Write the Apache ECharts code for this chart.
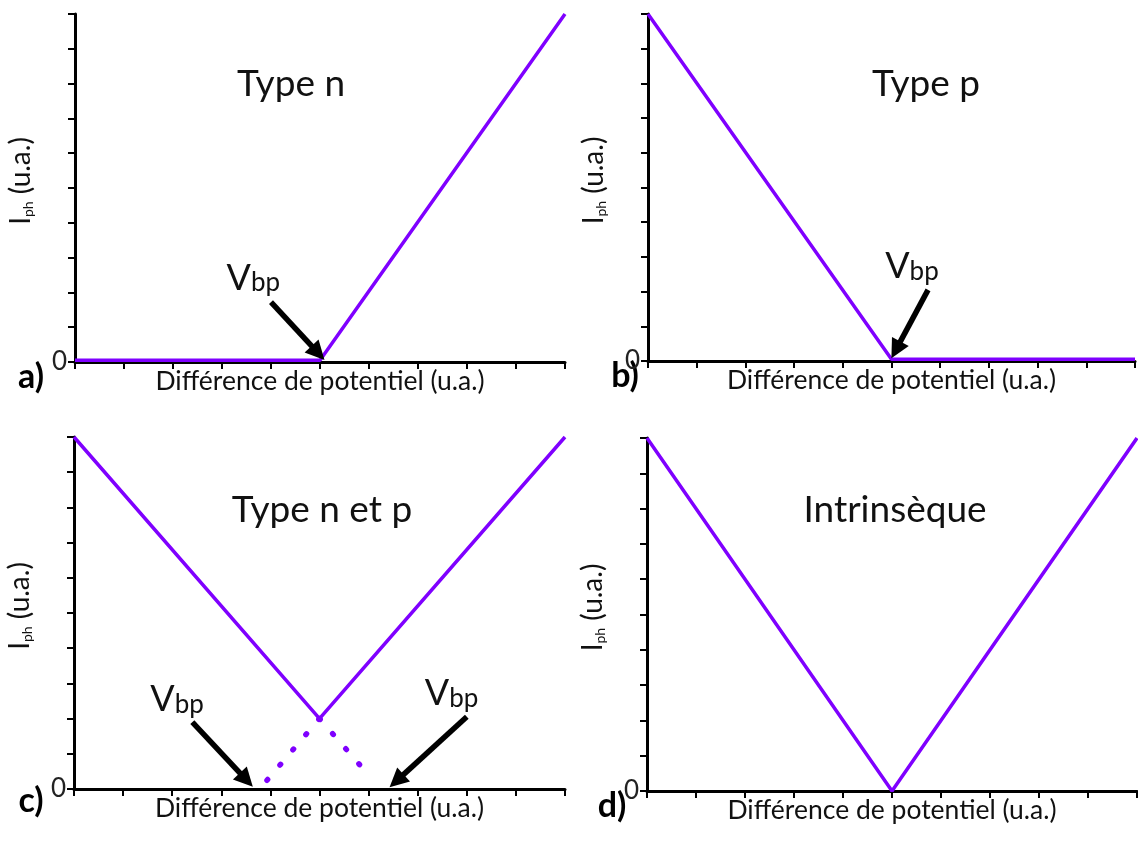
<!DOCTYPE html>
<html>
<head>
<meta charset="utf-8">
<script src="https://cdn.jsdelivr.net/npm/echarts@6/dist/echarts.min.js"></script>
<style>
html,body{margin:0;padding:0;background:#fff;}
#c{width:1138px;height:849px;}
</style>
</head>
<body>
<div id="c"></div>
<script>
// ---- data ----
const panelTitles = ['Type n', 'Type p', 'Type n et p', 'Intrinsèque'];
const panelLetters = ['a)', 'b)', 'c)', 'd)'];
const xLabel = 'Différence de potentiel (u.a.)';
const yTickLabels = ['0'];
const seriesA = [[0, 0.05], [5, 0.05], [10, 10]];
const seriesB = [[0, 10], [5, 0.05], [10, 0.05]];
const seriesC = [[0, 10], [5, 2], [10, 10]];
const seriesCDotLeft = [[5, 2], [3.78, 0]];
const seriesCDotRight = [[5, 2], [6.06, 0.3]];
const seriesD = [[0, 10], [5, 0], [10, 10]];
const arrowsA = [[[4.0, 1.72], [4.96, 0.26]]];
const labelsA = [[3.64, 2.47]];
const arrowsB = [[[5.75, 2.05], [5.09, 0.32]]];
const labelsB = [[5.42, 2.77]];
const arrowsC = [[[2.41, 1.9], [3.51, 0.26]], [[8.0, 2.05], [6.57, 0.23]]];
const labelsC = [[2.1, 2.6], [7.69, 2.76]];

// ---- layout ----
const FONT = 'Lato';
const PURPLE = '#7F00FF';
const grids = [
  {left: 75, top: 14, width: 490, height: 348},
  {left: 648, top: 14, width: 487, height: 347},
  {left: 74, top: 437, width: 491, height: 352},
  {left: 647, top: 438, width: 490, height: 353}
];

function xAxis(i) {
  return {
    type: 'value', gridIndex: i, min: 0, max: 10, interval: 1,
    axisLine: {show: true, lineStyle: {color: '#000', width: 3}},
    axisTick: {show: true, length: 7, lineStyle: {color: '#000', width: 2}},
    axisLabel: {show: false},
    splitLine: {show: false},
    name: xLabel, nameLocation: 'middle', nameGap: 6,
    nameTextStyle: {fontFamily: FONT, fontSize: 26.5, color: '#111', verticalAlign: 'top'}
  };
}
function yAxis(i) {
  return {
    type: 'value', gridIndex: i, min: 0, max: 10, interval: 1,
    axisLine: {show: true, lineStyle: {color: '#000', width: 3}},
    axisTick: {show: true, length: 7, lineStyle: {color: '#000', width: 2}},
    axisLabel: {show: true, margin: 8, fontFamily: FONT, fontSize: 26, color: '#222',
      formatter: v => (v === 0 ? yTickLabels[0] : '')},
    splitLine: {show: false},
    name: '{i|I}{s|ph}{n| (u.a.)}', nameLocation: 'middle', nameRotate: 90, nameGap: 40,
    nameTextStyle: {
      fontFamily: FONT, fontSize: 28, color: '#111', padding: [0, 0, 0, 14],
      rich: {
        i: {fontFamily: FONT, fontSize: 28, color: '#111', verticalAlign: 'bottom', lineHeight: 30},
        s: {fontFamily: FONT, fontSize: 14, color: '#111', verticalAlign: 'bottom', lineHeight: 8},
        n: {fontFamily: FONT, fontSize: 28, color: '#111', verticalAlign: 'bottom', lineHeight: 30}
      }
    }
  };
}

function mainLine(i, data) {
  return {type: 'line', xAxisIndex: i, yAxisIndex: i, data: data, symbol: 'none',
    lineStyle: {color: PURPLE, width: 3.5}, z: 3, silent: true, animation: false};
}
function dotLine(i, data) {
  return {type: 'line', xAxisIndex: i, yAxisIndex: i, data: data, symbol: 'none',
    lineStyle: {color: PURPLE, width: 5.5, type: [1, 19], cap: 'round'}, z: 3, silent: true, animation: false};
}
function annot(i, arrows, labels) {
  return {type: 'line', xAxisIndex: i, yAxisIndex: i, data: [], symbol: 'none', silent: true, animation: false, z: 4,
    markLine: {
      silent: true, animation: false,
      symbol: ['none', 'triangle'], symbolSize: 19,
      lineStyle: {color: '#000', width: 5.5, type: 'solid'},
      itemStyle: {color: '#000'},
      label: {show: false},
      emphasis: {disabled: true},
      data: arrows.map(a => [{coord: a[0]}, {coord: a[1]}])
    },
    markPoint: {
      silent: true, animation: false, symbol: 'circle', symbolSize: 0,
      label: {show: true, position: 'inside', formatter: '{v|V}{b|bp}',
        rich: {
          v: {fontFamily: FONT, fontSize: 36, color: '#111', verticalAlign: 'bottom', lineHeight: 40},
          b: {fontFamily: FONT, fontSize: 26, color: '#111', verticalAlign: 'bottom', lineHeight: 24}
        }},
      data: labels.map(l => ({coord: l}))
    }
  };
}

const titlePos = [[291, 84], [926, 84], [322, 510], [895, 510]];
const letterPos = [[31, 377], [625, 376], [31, 801], [612, 806]];
const graphic = [];
panelTitles.forEach((t, k) => graphic.push({type: 'text', x: titlePos[k][0], y: titlePos[k][1],
  style: {text: t, fontFamily: FONT, fontSize: 37, fill: '#111', textAlign: 'center', textVerticalAlign: 'middle'}}));
panelLetters.forEach((t, k) => graphic.push({type: 'text', x: letterPos[k][0], y: letterPos[k][1],
  style: {text: t, fontFamily: FONT, fontSize: 34, fontWeight: 'bold', fill: '#000', textAlign: 'center', textVerticalAlign: 'middle'}}));

const option = {
  backgroundColor: '#fff',
  animation: false,
  grid: grids,
  xAxis: [0, 1, 2, 3].map(xAxis),
  yAxis: [0, 1, 2, 3].map(yAxis),
  series: [
    mainLine(0, seriesA), annot(0, arrowsA, labelsA),
    mainLine(1, seriesB), annot(1, arrowsB, labelsB),
    mainLine(2, seriesC), dotLine(2, seriesCDotLeft), dotLine(2, seriesCDotRight), annot(2, arrowsC, labelsC),
    mainLine(3, seriesD)
  ],
  graphic: graphic
};
const chart = echarts.init(document.getElementById('c'), null, {renderer: 'canvas'});
chart.setOption(option);
</script>
</body>
</html>
